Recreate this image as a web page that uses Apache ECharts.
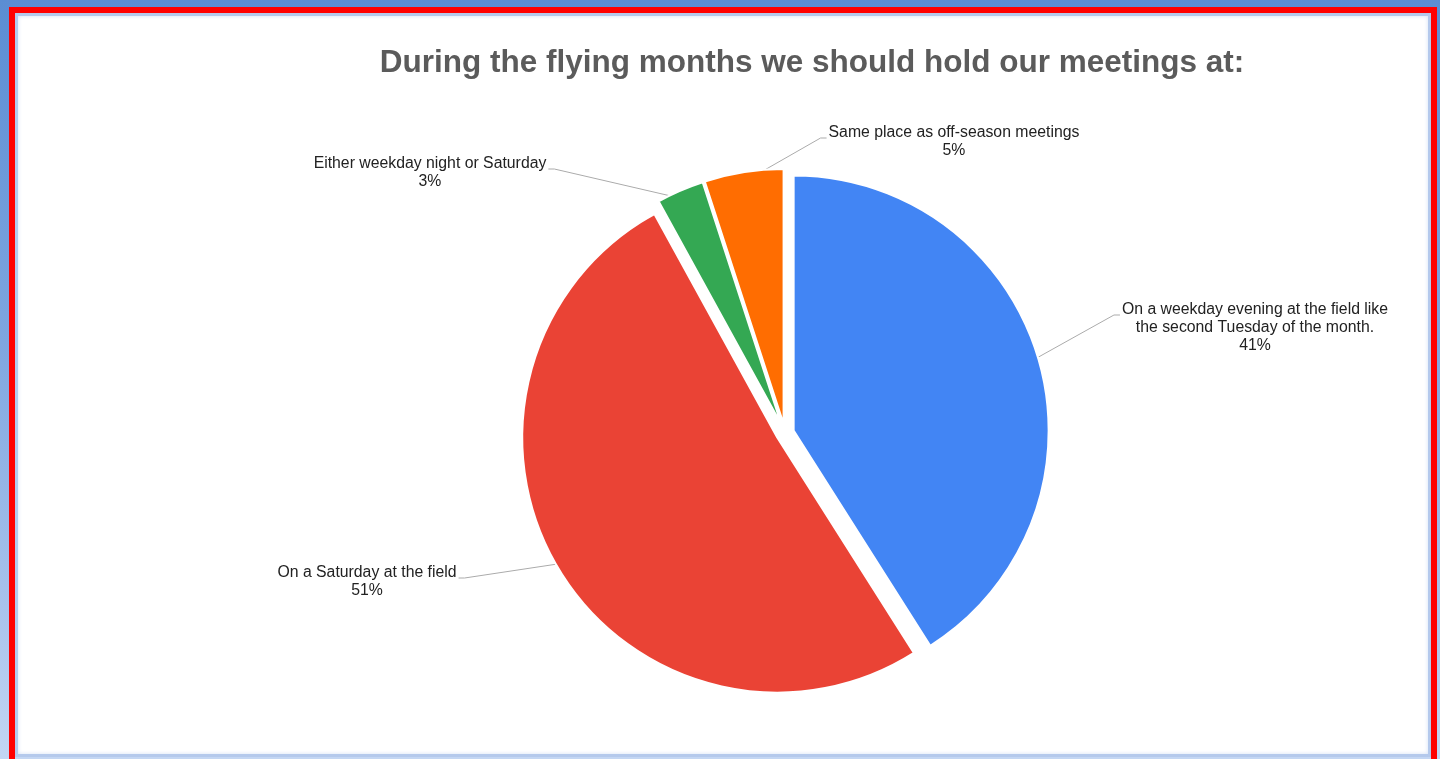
<!DOCTYPE html>
<html>
<head>
<meta charset="utf-8">
<title>Meeting preference survey</title>
<script src="https://cdn.jsdelivr.net/npm/echarts@6/dist/echarts.min.js"></script>
<style>
  html, body { margin: 0; padding: 0; width: 1440px; height: 759px; overflow: hidden; }
  body {
    position: relative;
    background: linear-gradient(180deg, #5b8dd3 0%, #7fa6e0 45%, #a9c3ec 80%, #c3d6f3 100%);
  }
  #frame {
    position: absolute; left: 9px; top: 7px; width: 1428px; height: 800px;
    box-sizing: border-box; border: 6px solid #ff0000;
  }
  #panel {
    position: absolute; left: 0; top: 0; width: 1416px; height: 744px;
    box-sizing: border-box; border: 3px solid #b4c9ec; background: #ffffff;
    box-shadow: inset 0 0 4px #d3e0f5;
  }
  #chart { position: absolute; left: 0; top: 0; width: 1440px; height: 759px; }
</style>
</head>
<body>
<div id="frame"><div id="panel"></div></div>
<div id="chart"></div>
<script>
// Survey answers, clockwise from 12 o'clock
const categories = [
  'On a weekday evening at the field like\nthe second Tuesday of the month.',
  'On a Saturday at the field',
  'Either weekday night or Saturday',
  'Same place as off-season meetings'
];
const shares = [41, 51, 3, 5];
const sliceColors = ['#4285f4', '#ea4335', '#34a853', '#ff6d01'];
const chartTitle = 'During the flying months we should hold our meetings at:';

// Centre of each label block, in page pixels
const labelAnchors = [[1255, 328], [367, 582], [430, 173], [954, 142]];

const pieCenter = [785, 433];
const pieRadius = 255;
const fontStack = 'Liberation Sans, Arial, sans-serif';

const chart = echarts.init(document.getElementById('chart'), null, { renderer: 'canvas' });

const sliceData = categories.map((name, i) => ({ name: name, value: shares[i] }));

chart.setOption({
  animation: false,
  backgroundColor: 'transparent',
  color: sliceColors,
  title: {
    text: chartTitle,
    left: 807,
    top: 42,
    textAlign: 'center',
    textStyle: {
      fontFamily: fontStack,
      fontSize: 31.5,
      fontWeight: 'bold',
      color: '#5b5b5b'
    }
  },
  series: [
    {
      // Label layer: same slices, unpainted, carrying the callout texts and leader lines
      type: 'pie',
      z: 1,
      silent: true,
      center: pieCenter,
      radius: pieRadius,
      startAngle: 90,
      clockwise: true,
      itemStyle: { color: 'rgba(0,0,0,0)', borderWidth: 0 },
      emphasis: { disabled: true },
      label: {
        show: true,
        position: 'outside',
        formatter: '{b}\n{d}%',
        fontFamily: fontStack,
        fontSize: 15.8,
        lineHeight: 18,
        color: '#222222',
        align: 'center'
      },
      labelLine: {
        show: true,
        length: 10,
        length2: 8,
        lineStyle: { color: '#ababab', width: 1 }
      },
      labelLayout: function (p) {
        const a = labelAnchors[p.dataIndex];
        const w = p.labelRect.width;
        const h = p.labelRect.height;
        const start = p.labelLinePoints ? p.labelLinePoints[0] : [pieCenter[0], pieCenter[1]];
        const onLeft = a[0] < start[0];
        const ey = a[1] - h / 2 + 14;
        const ex = onLeft ? a[0] + w / 2 + 2 : a[0] - w / 2 - 2;
        const bx = onLeft ? ex + 6 : ex - 6;
        return {
          x: a[0],
          y: a[1],
          align: 'center',
          verticalAlign: 'middle',
          labelLinePoints: [start, [bx, ey], [ex, ey]]
        };
      },
      data: sliceData
    },
    {
      // Exploded slices
      type: 'pie',
      z: 2,
      silent: true,
      center: pieCenter,
      radius: pieRadius,
      startAngle: 90,
      clockwise: true,
      selectedMode: 'multiple',
      selectedOffset: 9,
      emphasis: { disabled: true },
      itemStyle: { borderWidth: 2, borderColor: '#ffffff' },
      label: { show: false },
      labelLine: { show: false },
      data: sliceData.map(d => ({ name: d.name, value: d.value, selected: true }))
    }
  ]
});
</script>
</body>
</html>
